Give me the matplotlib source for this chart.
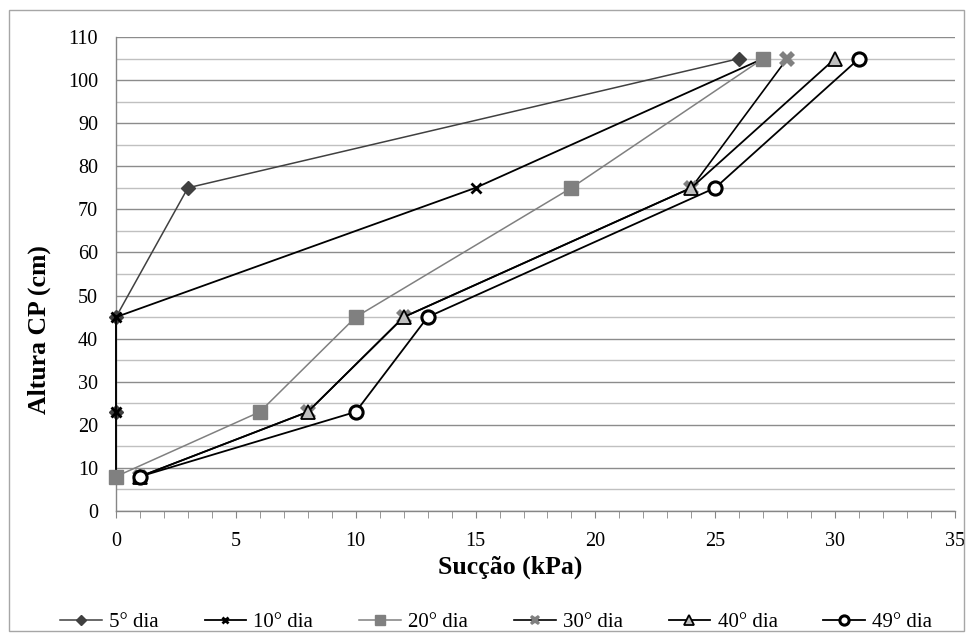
import matplotlib
matplotlib.use("Agg")
import matplotlib.pyplot as plt
from matplotlib.patches import Rectangle
from matplotlib.ticker import MultipleLocator

plt.rcParams['font.family'] = ['Liberation Serif', 'DejaVu Serif']

heights = [105, 75, 45, 23, 8]
labels = ["5° dia", "10° dia", "20° dia", "30° dia", "40° dia", "49° dia"]
suction = {
    "5° dia":  [26, 3, 0, 0, 0],
    "10° dia": [27, 15, 0, 0, 0],
    "20° dia": [27, 19, 10, 6, 0],
    "30° dia": [28, 24, 12, 8, 1],
    "40° dia": [30, 24, 12, 8, 1],
    "49° dia": [31, 25, 13, 10, 1],
}

styles = {
    "5° dia":  dict(color="#404040", lw=1.1, marker="D", ms=7.5, mfc="#404040", mec="#404040"),
    "10° dia": dict(color="#000000", lw=1.3, marker="x", ms=6.5, mew=2, mfc="#000000", mec="#000000"),
    "20° dia": dict(color="#808080", lw=1.1, marker="s", ms=9.5, mfc="#808080", mec="#808080"),
    "30° dia": dict(color="#000000", lw=1.2, marker="X", ms=11, mew=0, mfc="#808080", mec="#808080"),
    "40° dia": dict(color="#000000", lw=1.3, marker="^", ms=9.5, mew=1.3, mfc="#bfbfbf", mec="#000000"),
    "49° dia": dict(color="#000000", lw=1.3, marker="o", ms=9.5, mew=2.2, mfc="#ffffff", mec="#000000"),
}

fig = plt.figure(figsize=(9.73, 6.39), dpi=100)
fig.patches.append(Rectangle((0.009, 0.012), 0.982, 0.972, transform=fig.transFigure,
                             fill=False, edgecolor="#a6a6a6", lw=1.0))
ax = fig.add_axes([116 / 973, 1 - 511 / 639, (955 - 116) / 973, (511 - 37) / 639])

for name in labels:
    ax.plot(suction[name], heights, label=name, zorder=3, clip_on=False, **styles[name])

ax.set_xlim(0, 35)
ax.set_ylim(0, 110)
ax.xaxis.set_major_locator(MultipleLocator(5))
ax.xaxis.set_minor_locator(MultipleLocator(1))
ax.yaxis.set_major_locator(MultipleLocator(10))
ax.yaxis.set_minor_locator(MultipleLocator(5))

ax.grid(axis="y", which="major", color="#8c8c8c", lw=1.0)
ax.grid(axis="y", which="minor", color="#c0c0c0", lw=1.0)
ax.set_axisbelow(True)

for s in ("top", "right"):
    ax.spines[s].set_visible(False)
for s in ("left", "bottom"):
    ax.spines[s].set_color("#868686")
    ax.spines[s].set_linewidth(1.0)

ax.tick_params(axis="x", which="major", direction="out", length=5, color="#868686",
               labelsize=14.5, pad=10)
ax.tick_params(axis="x", which="minor", direction="out", length=5, color="#868686")
ax.tick_params(axis="y", which="both", length=0, labelsize=14.5, pad=13)

ax.set_xlabel("Sucção (kPa)", fontsize=18.5, fontweight="bold")
ax.set_ylabel("Altura CP (cm)", fontsize=18.5, fontweight="bold")
ax.xaxis.set_label_coords(0.47, -0.095)
ax.yaxis.set_label_coords(-0.078, 0.382)

leg = fig.legend(*ax.get_legend_handles_labels(), loc="center", ncol=6,
                 bbox_to_anchor=(0.51, 1 - 622 / 639), frameon=False, fontsize=15,
                 handlelength=2.0, handletextpad=0.35, columnspacing=2.2, markerscale=0.7)

fig.savefig("out.png", dpi=100)
